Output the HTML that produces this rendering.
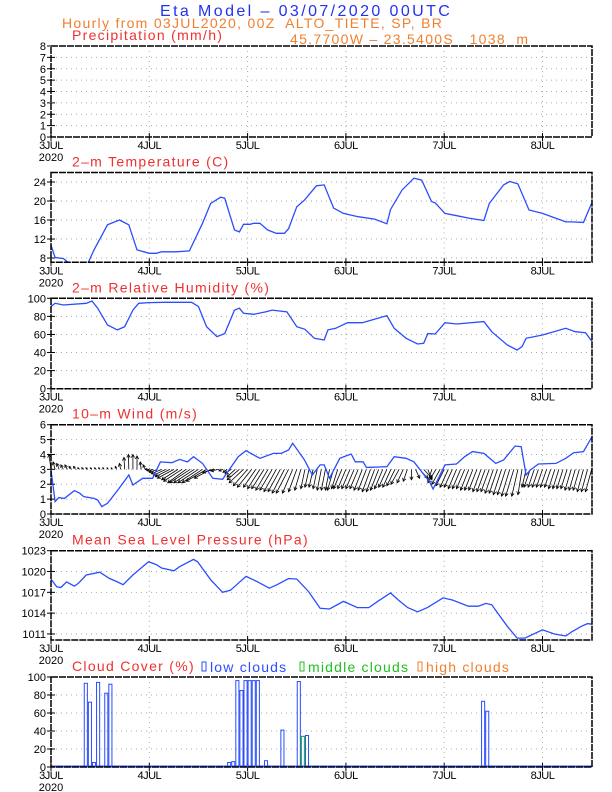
<!DOCTYPE html>
<html><head><meta charset="utf-8"><style>
body{margin:0;background:#fff;}
svg{display:block;font-family:"Liberation Sans",sans-serif;}
text{white-space:pre;}
</style></head><body>
<svg id="c" width="612" height="792" viewBox="0 0 612 792">
<text x="160" y="16" font-size="16" letter-spacing="2.4" fill="#2233ee">Eta Model – 03/07/2020 00UTC</text>
<text x="62" y="28" font-size="14" letter-spacing="1.3" fill="#f08030">Hourly from 03JUL2020, 00Z  ALTO_TIETE, SP, BR</text>
<text x="290" y="44" font-size="14" letter-spacing="1.3" fill="#f08030">45.7700W – 23.5400S   1038  m</text>
</svg>
<script>
const days=['3JUL','4JUL','5JUL','6JUL','7JUL','8JUL'];
const tempT=[0,1,3,4.3,6.7,9,10.5,13.8,16.7,19,21,24,25.7,27,30.5,33.8,37,39,41.4,42.4,44.8,46,47,48.6,49.5,51,52.9,55,57,58,60,61.9,64.8,66.7,69,71.4,75,79,82,82.9,85.7,88.6,90.5,92.9,93.8,96.2,98.6,102,105.7,107,110.5,112,114,116.7,120,125.7,127,130,132];
const tempV=[10.7,8.1,7.9,7.0,6.5,6.9,9.7,15,16,15,9.7,9.0,9,9.3,9.3,9.5,15.3,19.5,20.8,20.6,13.9,13.5,15.1,15.1,15.3,15.3,13.9,13.2,13.2,14.2,18.8,20.2,23.2,23.4,18.5,17.4,16.7,16.2,15.2,18.2,22.3,24.8,24.4,19.9,19.6,17.4,17,16.4,15.9,19.5,23.4,24.1,23.6,18.1,17.4,15.6,15.6,15.5,19.5];
const rhT=[0,1,3,8.6,10,11.4,13.8,16.2,18,20,21.4,24,27.6,34.3,36,38,40.5,42.4,44.8,46,47,49.5,52.4,54,57.6,60,62,64.3,66.7,67.6,69.5,72.4,76,82,83.8,86.7,89.5,91,92,93.8,96.2,99,105.7,107.6,111.4,113.8,115,116,120,125.7,128,130.5,132];
const rhV=[91,94.5,92.6,94.5,97,89,70.5,65,68.6,87,94.5,95.2,95.6,95.6,91,68.6,57.6,61,87,89,83.4,82.3,85,87,85,68.6,65.7,55.7,53.9,65,66.8,73,73,80.8,66.8,55.7,49.4,50.2,61,60.5,73,71.6,74.2,63,48.3,42.8,46.5,55.7,59.4,66.8,63,62,53];
const windT=[0,1,1.9,3.3,5.7,7,8,10.5,11.4,12.4,13.8,16.2,19,20,22.4,24.8,26.7,29.5,31.4,33.3,34.8,37,39.5,41.9,45.7,47.6,51,54.3,56.2,58,59,61.9,63.8,65.7,66.7,68,70.5,73.3,74.3,76.2,77,82,83.8,86.7,88.6,92.4,93.3,96.2,99,101,102.9,105.7,108.6,110.5,113.3,114.8,116,117,119,123.3,125.7,127.6,130,132];
const windV=[2.95,0.83,1.1,1.05,1.57,1.4,1.16,1.05,0.94,0.5,0.72,1.57,2.62,1.95,2.4,2.4,3.5,3.45,3.67,3.5,3.85,3.4,2.4,2.33,3.85,4.25,3.74,4.07,4.07,4.3,4.75,3.63,2.62,3.3,3.3,2.4,3.74,4.03,3.51,3.51,3.13,3.18,3.85,3.74,3.51,2.17,1.68,3.3,3.36,3.85,4.19,4.07,3.4,3.63,4.57,4.52,2.62,2.95,3.36,3.4,3.74,4.12,4.19,5.15];
// hourly wind vectors: u = tip offset in hours, v = offset in m/s from baseline 3
const vecU=[-0.5,-0.5,-0.6,-0.6,-0.6,-0.6,-0.5,-0.5,-0.5,-0.5,-0.4,-0.4,
-0.4,-0.4,-0.3,-0.3,-0.3,-0.3,-0.2,-0.1,0,0,-0.2,-0.5,
-1,-1.5,-2,-2.5,-3,-3.5,-4,-4,-4.5,-4.5,-5,-5,
-5,-5,-5,-4,-3,-2,-1,-1,-1.5,-2,-3,-3.5,
-3.5,-3.5,-3,-3,-3,-3,-3,-3,-3,-3,-3,-2.5,
-2,-1.5,-1,-1,-1,-1,-1,-1,-1,-1.5,-1.5,-2,
-2,-2,-2,-2,-2,-2,-2,-2,-2,-2,-2,-2,
-2,-2,-1.5,-1,0,1,2,2,1,-1,-2,-2,
-2,-2,-2,-2,-2,-2,-2,-2,-2,-2,-2,-2,
-2,-2,-2,-2,-2,-2,-1.5,-1,-1,-1.5,-1.5,-1.5,
-1.5,-1.5,-1.5,-1.5,-1.5,-1.5,-1.5,-1.5,-1.5,-1.5,-1.5,-1.5,-1.5];
const vecV=[1,0.5,0.4,0.3,0.3,0.2,0.2,0.1,0.1,0.1,0.1,0.1,
0.1,0.1,0.1,0.1,0.2,0.4,0.8,1,1,0.9,0.5,0.3,
0,-0.1,-0.2,-0.3,-0.4,-0.5,-0.6,-0.7,-0.8,-0.9,-0.9,-0.9,
-0.9,-0.9,-0.8,-0.6,-0.2,-0.1,-0.1,-0.2,-0.3,-0.5,-0.7,-0.9,
-1.1,-1.2,-1.2,-1.3,-1.3,-1.4,-1.4,-1.5,-1.5,-1.6,-1.6,-1.6,
-1.5,-1.4,-1.3,-1.2,-1.2,-1.3,-1.4,-1.4,-1.4,-1.4,-1.3,-1.3,
-1.3,-1.3,-1.3,-1.3,-1.4,-1.4,-1.5,-1.5,-1.4,-1.3,-1.2,-1.2,
-1.1,-1.0,-0.9,-0.8,-0.7,-0.6,-0.6,-0.6,-0.7,-0.8,-0.9,-1.0,
-1.1,-1.2,-1.2,-1.3,-1.3,-1.3,-1.4,-1.4,-1.4,-1.5,-1.5,-1.5,
-1.6,-1.6,-1.7,-1.7,-1.8,-1.8,-1.8,-1.7,-1.2,-1.2,-1.2,-1.2,
-1.2,-1.2,-1.2,-1.3,-1.3,-1.3,-1.3,-1.4,-1.4,-1.4,-1.5,-1.5,-1.5];
const mslpT=[0,1.4,2.4,3.8,5.7,6.7,8.6,11.9,14.3,16.2,17.6,20,23.8,25.7,27,30,31.4,34.8,35.8,39,41.9,43.8,45.7,47.6,50.5,53.3,55.2,58,60,62.9,65.7,68,71.4,74.8,77.6,80,82.9,84.8,87.1,89.5,91.9,95.7,98,101.9,104.3,106.2,107.6,111.4,113.8,115.7,120,122.9,125.7,127.1,129.5,131,132];
const mslpV=[1018.9,1017.8,1017.7,1018.5,1017.9,1018.3,1019.5,1019.9,1019,1018.5,1018.1,1019.5,1021.4,1021,1020.5,1020.1,1020.7,1021.75,1021.4,1018.8,1017,1017.3,1018.3,1019.3,1018.5,1017.6,1018.1,1019,1018.9,1017.1,1014.7,1014.6,1015.7,1014.8,1014.8,1015.8,1016.9,1015.9,1014.8,1014.2,1014.8,1016.2,1015.9,1015,1015,1015.4,1015.2,1012.1,1010.4,1010.4,1011.6,1011,1010.7,1011.3,1012.1,1012.5,1012.4];
const lowT=[8,9,10,11,13,14,43,44,45,46,47,48,49,50,52,56,60,61,62,63,105,106];
const lowV=[93,72,5,94,82,92,5,6,96,85,96,96,96,96,7,41,95,34,35,1,73,62];
const midT=[61];
const midV=[34];

const svg=document.getElementById('c');
const NS='http://www.w3.org/2000/svg';
const X0=51,DAY=98.3;
function xs(t){return X0+t/24*DAY;}
function mk(tag,a,parent){const e=document.createElementNS(NS,tag);for(const k in a)e.setAttribute(k,a[k]);(parent||svg).appendChild(e);return e;}
const panels=[
 {name:'precipitation',title:'Precipitation (mm/h)',top:46,bot:137,min:0,max:8,ticks:[0,1,2,3,4,5,6,7,8],grid:[1,2,3,4,5,6,7]},
 {name:'temperature',title:'2–m Temperature (C)',top:172.5,bot:262.3,min:7.1,max:26,ticks:[8,12,16,20,24],grid:[8,12,16,20,24]},
 {name:'humidity',title:'2–m Relative Humidity (%)',top:298.3,bot:388.7,min:0,max:100,ticks:[0,20,40,60,80,100],grid:[20,40,60,80]},
 {name:'wind',title:'10–m Wind (m/s)',top:424.7,bot:514,min:0,max:6,ticks:[0,1,2,3,4,5,6],grid:[1,2,3,4,5]},
 {name:'pressure',title:'Mean Sea Level Pressure (hPa)',top:550.7,bot:640,min:1010.13,max:1023,ticks:[1011,1014,1017,1020,1023],grid:[1011,1014,1017,1020]},
 {name:'cloud',title:'Cloud Cover (%)',top:677,bot:767,min:0,max:100,ticks:[0,20,40,60,80,100],grid:[20,40,60,80]}
];
const XR=592;
panels.forEach(p=>{
 p.y=v=>p.bot-(v-p.min)/(p.max-p.min)*(p.bot-p.top);
 const g=mk('g',{});
 
 
 p.g=g;
 p.grid.forEach(v=>{const l=mk('line',{x1:X0,x2:XR,y1:p.y(v),y2:p.y(v),stroke:'#aaa','stroke-width':1,'stroke-dasharray':'1,4'},g);
  });
 for(let d=1;d<6;d++){const l=mk('line',{x1:xs(d*24),x2:xs(d*24),y1:p.top,y2:p.bot,stroke:'#aaa','stroke-width':1,'stroke-dasharray':'1,4'},g);
  }
 p.ticks.forEach(v=>{const y=p.y(v);
  mk('line',{x1:X0-4,x2:X0+4,y1:y,y2:y,stroke:'#000','stroke-width':1},g);
  const t=mk('text',{x:X0-5,y:y+4,'font-size':11,'text-anchor':'end',fill:'#000'},g);t.textContent=v;
  });
 days.forEach((d,i)=>{const x=xs(i*24);
  mk('line',{x1:x,x2:x,y1:p.bot-4,y2:p.bot+4,stroke:'#000','stroke-width':1},g);
  const t=mk('text',{x:x,y:p.bot+12,'font-size':11,'text-anchor':'middle',fill:'#000','letter-spacing':'-0.5'},g);t.textContent=d;
  });
 const yr=mk('text',{x:X0,y:p.bot+24,'font-size':11,'text-anchor':'middle',fill:'#000'},g);yr.textContent='2020';
 
 const tt=mk('text',{x:72,y:p.top-6,'font-size':14,'letter-spacing':1.3,fill:'#f03030'},g);tt.textContent=p.title;
 
 const cp=mk('clipPath',{id:'cp'+p.name},svg);mk('rect',{x:X0,y:p.top,width:XR-X0,height:p.bot-p.top},cp);
});
function line(p,T,V,name){
 const d=T.map((t,i)=>(i?'L':'M')+xs(t).toFixed(1)+' '+p.y(V[i]).toFixed(1)).join(' ');
 const e=mk('path',{d:d,fill:'none',stroke:'#2a4dff','stroke-width':1.3,'clip-path':'url(#cp'+p.name+')'},p.g);
 
}
line(panels[1],tempT,tempV,'temperature-line');
line(panels[2],rhT,rhV,'humidity-line');
// wind vectors
const pw=panels[3];
vecU.forEach((u,i)=>{const t=i;const x1=xs(t),y1=pw.y(3),x2=xs(t+u),y2=pw.y(3+vecV[i]);
 const g=mk('g',{stroke:'#000','stroke-width':0.8,fill:'none'},pw.g);
 
 
 mk('line',{x1:x1,y1:y1,x2:x2,y2:y2},g);
 const a=Math.atan2(y2-y1,x2-x1),L=Math.min(3.5,Math.hypot(x2-x1,y2-y1)*0.6);
 mk('path',{d:`M${x2-L*Math.cos(a-0.5)} ${y2-L*Math.sin(a-0.5)} L${x2} ${y2} L${x2-L*Math.cos(a+0.5)} ${y2-L*Math.sin(a+0.5)}`},g);
});
line(pw,windT,windV,'wind-speed-line');
line(panels[4],mslpT,mslpV,'pressure-line');
// clouds
const pc=panels[5];
function bars(T,V,col,name){T.forEach((t,i)=>{const x=xs(t),w=DAY/24,y=pc.y(V[i]);
 const r=mk('rect',{x:x+0.5,y:y,width:w-1,height:pc.bot-y,fill:'none',stroke:col,'stroke-width':1},pc.g);
 });}
bars(lowT,lowV,'#2a4dff','low-cloud-bar');
bars(midT,midV,'#20c020','middle-cloud-bar');
const bl=mk('line',{x1:X0,x2:XR,y1:pc.bot-0.5,y2:pc.bot-0.5,stroke:'#2a4dff','stroke-width':2},pc.g);

[['low clouds','#2a4dff',202],['middle clouds','#20c020',300],['high clouds','#f08030',418]].forEach(([s,c,x])=>{
 const g=mk('g',{},pc.g);
 
 
 mk('rect',{x:x,y:pc.top-15,width:4,height:9,fill:'none',stroke:c,'stroke-width':1},g);
 const t=mk('text',{x:x+8,y:pc.top-5,'font-size':14,'letter-spacing':1.2,fill:c},g);t.textContent=s;
});
// frames
panels.forEach(p=>{const r=mk('rect',{x:X0,y:p.top,width:XR-X0,height:p.bot-p.top,fill:'none',stroke:'#000','stroke-width':1.5,'stroke-dasharray':'7,1'},p.g);
 });
</script>
</body></html>
